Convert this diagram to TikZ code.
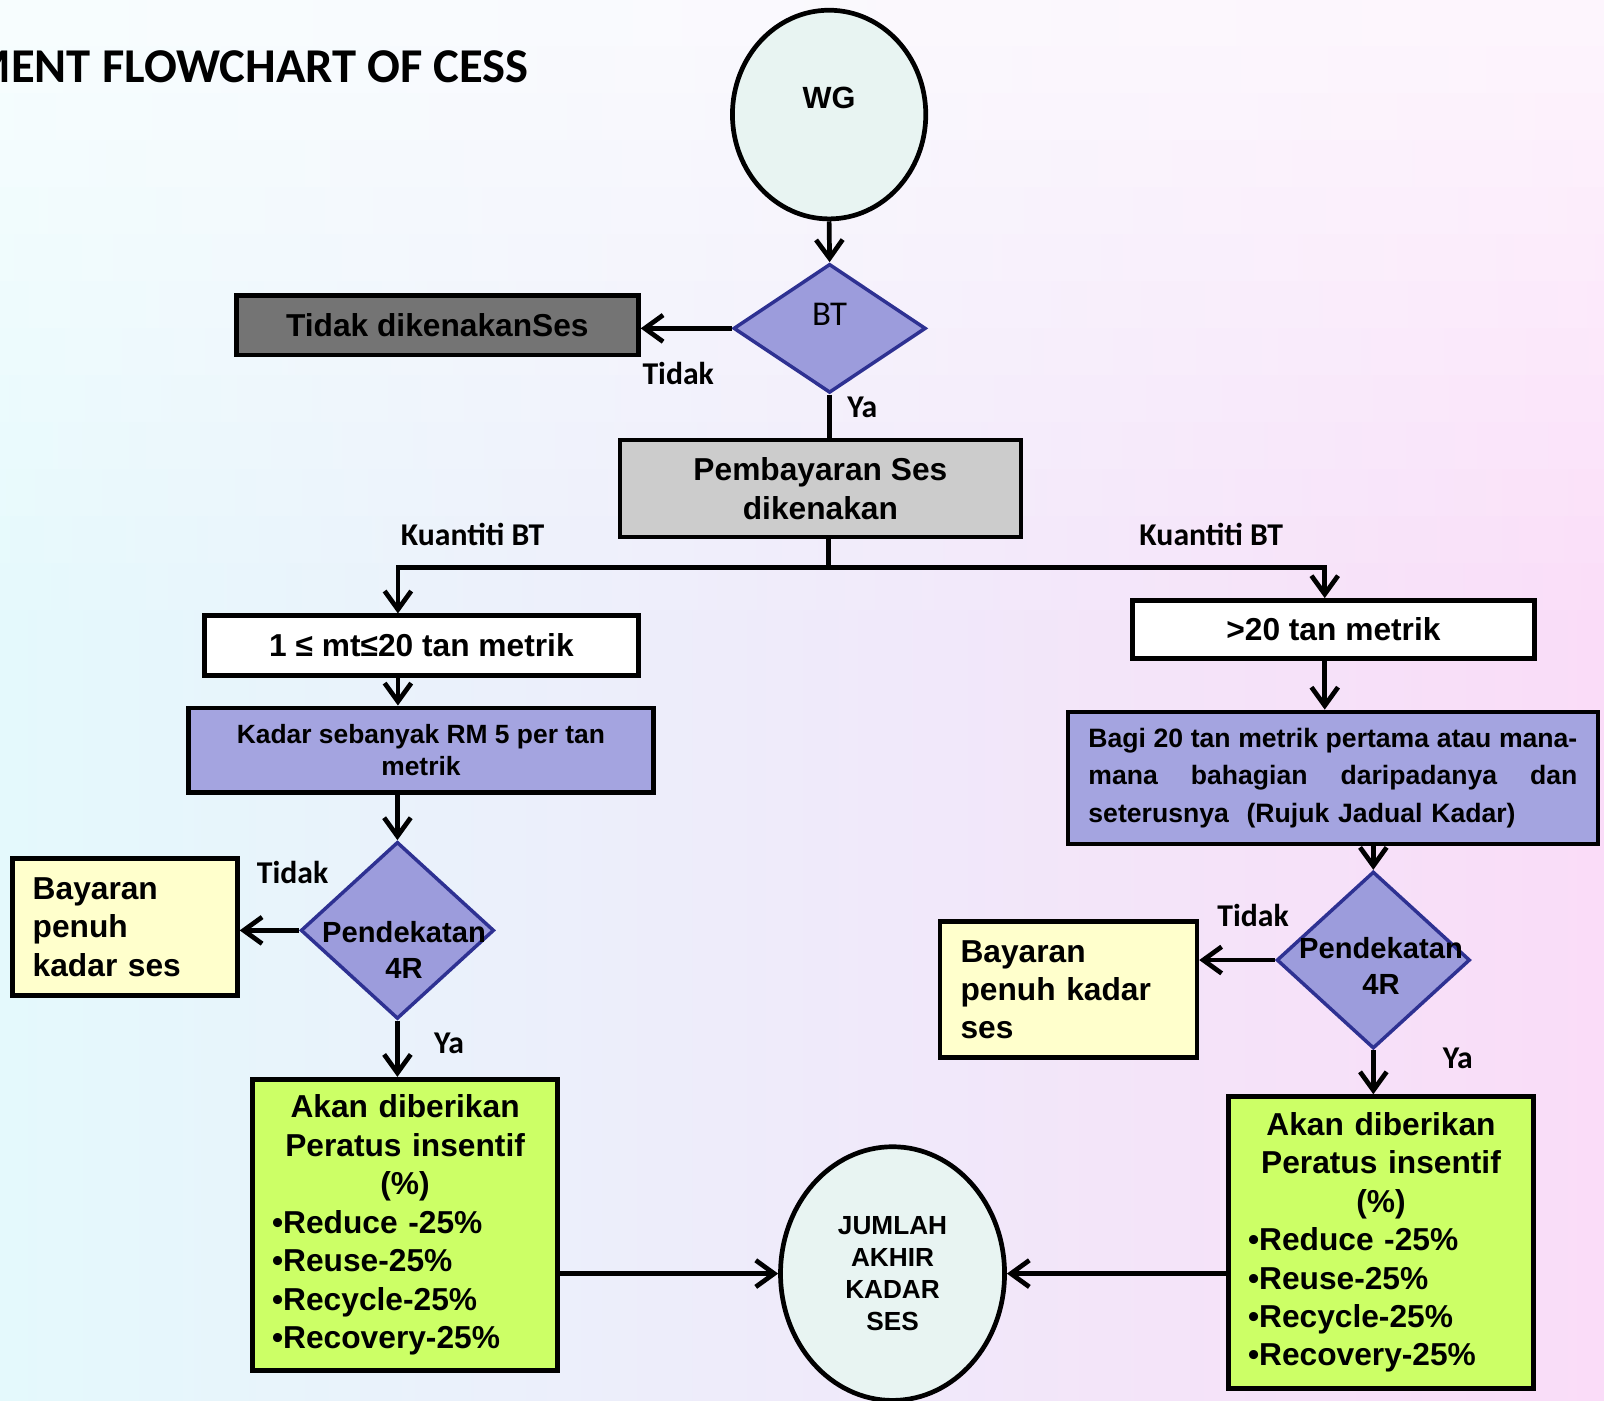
\documentclass[tikz,border=0pt]{standalone}
\usepackage{fontspec}
\newfontfamily\arialf{Liberation Sans}
\newfontfamily\calf{Carlito}
\usetikzlibrary{shapes.geometric,arrows.meta}
\definecolor{bgL}{HTML}{E4F9FC}
\definecolor{bgR}{HTML}{FADCF8}
\definecolor{dgray}{HTML}{747474}
\definecolor{lgray}{HTML}{CCCCCC}
\definecolor{perc}{HTML}{A4A4E0}
\definecolor{dfill}{HTML}{9C9CDC}
\definecolor{dnavy}{HTML}{2E3192}
\definecolor{yel}{HTML}{FFFFCC}
\definecolor{lime}{HTML}{CCFF66}
\definecolor{pale}{HTML}{E8F4F2}
\newcommand{\jline}[1]{\makebox[239pt][s]{\spaceskip=.28em plus 2em minus .1em\relax #1}}
\tikzset{
 conn/.style={line width=2.3pt, draw=black, line join=miter},
 arr/.style={conn, -{Straight Barb[length=9pt,width=13pt]}},
 stdbox/.style={draw=black, line width=2.3pt, rectangle, inner sep=0pt},
 decis/.style={diamond, draw=dnavy, fill=dfill, line width=1.7pt, inner sep=0pt},
 oval/.style={ellipse, draw=black, line width=2.3pt, fill=pale, inner sep=0pt},
 bigtxt/.style={font=\arialf\bfseries\fontsize{15.5}{18.8}\selectfont},
 lbl/.style={font=\calf\bfseries\fontsize{15.5}{18}\selectfont, inner sep=0pt},
 ptxt/.style={font=\arialf\bfseries\fontsize{14.25}{17.5}\selectfont, align=center, inner sep=0pt},
}
\begin{document}
\begin{tikzpicture}[x=0.5pt,y=-0.5pt]
\useasboundingbox (0,0) rectangle (1568,1368.6);
\clip (0,0) rectangle (1568,1368.6);
\foreach \i in {0,...,29} {
  \pgfmathtruncatemacro\bl{min(100, 30 + 70*\i/13)}
  \shade[left color=bgL!\bl!white, right color=bgR!\bl!white] (0,\i*46-1) rectangle (1568,\i*46+47);
}

\node[font=\calf\bfseries\fontsize{23.75}{28}\selectfont, anchor=east, inner sep=0pt] (title) at (517,65) {MENT FLOWCHART OF CESS};

\node[oval, minimum width=94.5pt, minimum height=102pt, font=\arialf\bfseries\fontsize{15}{18}\selectfont] (wg) at (810.5,112) {\raisebox{3.1pt}[0pt][0pt]{WG}};
\node[decis, minimum width=94pt, minimum height=63pt, font=\calf\fontsize{17}{20}\selectfont] (bt) at (811,321) {\raisebox{1.5pt}[0pt][0pt]{BT}};
\node[stdbox, fill=dgray, minimum width=196.5pt, minimum height=29pt, bigtxt] (tdk) at (427.5,318) {Tidak dikenakanSes};
\node[stdbox, fill=lgray, minimum width=196pt, minimum height=47.5pt, bigtxt, align=center] (pem) at (802,477.5) {Pembayaran Ses\\dikenakan};
\coordinate (jn) at (810,555);
\coordinate (jl) at (389,555);
\coordinate (jr) at (1295,555);
\node[stdbox, fill=white, minimum width=212pt, minimum height=29pt, bigtxt] (q1) at (412,631) {1 ≤ mt≤20 tan metrik};
\node[stdbox, fill=white, minimum width=196.5pt, minimum height=28.5pt, bigtxt] (q2) at (1303.5,615.5) {>20 tan metrik};
\node[stdbox, fill=perc, minimum width=227.5pt, minimum height=41.5pt, align=center, font=\arialf\bfseries\fontsize{12.9}{15.5}\selectfont] (kad) at (411.5,733.5) {Kadar sebanyak RM 5 per tan\\metrik};
\node[stdbox, fill=perc, minimum width=259pt, minimum height=64.5pt, text width=239pt, align=left, font=\arialf\bfseries\fontsize{13}{18.2}\selectfont] (bagi) at (1303,760.5) {\jline{Bagi 20 tan metrik pertama atau mana-}\\\jline{mana bahagian daripadanya dan}\\seterusnya\ \ (Rujuk Jadual Kadar)};

\node[decis, minimum width=94.5pt, minimum height=86.5pt] (d1) at (388.5,909.5) {};
\node[ptxt] (p1) at (395,928.5) {Pendekatan\\4R};
\node[decis, minimum width=94.5pt, minimum height=86.5pt] (d2) at (1342.5,938.5) {};
\node[ptxt] (p2) at (1350,944) {Pendekatan\\4R};

\node[stdbox, fill=yel, minimum width=110pt, minimum height=67pt, text width=90pt, align=left, bigtxt] (ba1) at (122,906) {Bayaran\\penuh\\kadar ses};
\node[stdbox, fill=yel, minimum width=125.5pt, minimum height=66.5pt, text width=105.5pt, align=left, bigtxt] (ba2) at (1044.5,967.5) {Bayaran\\penuh kadar\\ses};

\node[stdbox, fill=lime, minimum width=149pt, minimum height=142.5pt, text width=130pt, align=left, bigtxt] (g1) at (396,1197.5) {\makebox[130pt]{Akan diberikan}\\\makebox[130pt]{Peratus insentif}\\\makebox[130pt]{(\%)}\\•Reduce -25\%\\•Reuse-25\%\\•Recycle-25\%\\•Recovery-25\%};
\node[stdbox, fill=lime, minimum width=149pt, minimum height=142.5pt, text width=130pt, align=left, bigtxt] (g2) at (1350,1214.5) {\makebox[130pt]{Akan diberikan}\\\makebox[130pt]{Peratus insentif}\\\makebox[130pt]{(\%)}\\•Reduce -25\%\\•Reuse-25\%\\•Recycle-25\%\\•Recovery-25\%};

\node[oval, minimum width=109.5pt, minimum height=124pt, align=center, font=\arialf\bfseries\fontsize{12.8}{15.6}\selectfont] (jum) at (872.5,1245) {JUMLAH\\AKHIR\\KADAR\\SES};

% connectors
\draw[arr] (wg.south) -- (bt.north);
\draw[arr] (bt.west) -- (tdk.east |- bt.west);
\draw[conn] (bt.south) -- (bt.south |- pem.north);
\draw[arr] (jn |- pem.south) -- (jn) -| (q1.north -| jl);
\draw[arr] (jn) -| (q2.north -| jr);
\draw[arr] (jl |- q1.south) -- (jl |- kad.north);
\draw[arr] (jr |- q2.south) -- (jr |- bagi.north);
\draw[arr] (d1.north |- kad.south) -- (d1.north);
\draw[arr] (d2.north |- bagi.south) -- (d2.north);
\draw[arr] (d1.west) -- (ba1.east |- d1.west);
\draw[arr] (d2.west) -- (ba2.east |- d2.west);
\draw[arr] (d1.south) -- (d1.south |- g1.north);
\draw[arr] (d2.south) -- (d2.south |- g2.north);
\draw[arr] (g1.east |- jum.west) -- (jum.west);
\draw[arr] (g2.west |- jum.east) -- (jum.east);

% labels
\node[lbl] (l1) at (663,365) {Tidak};
\node[lbl] (l2) at (843,398) {Ya};
\node[lbl] (l3) at (462,522) {Kuantiti BT};
\node[lbl] (l4) at (1184,522) {Kuantiti BT};
\node[lbl] (l5) at (286,853) {Tidak};
\node[lbl] (l6) at (439,1020) {Ya};
\node[lbl] (l7) at (1225,895) {Tidak};
\node[lbl] (l8) at (1425,1035) {Ya};
\end{tikzpicture}
\end{document}
